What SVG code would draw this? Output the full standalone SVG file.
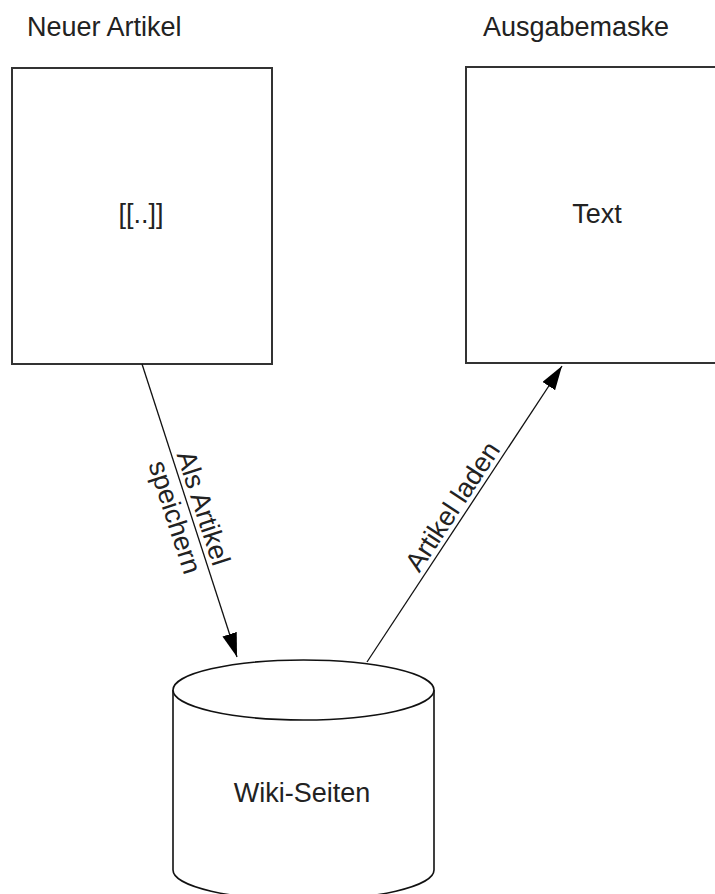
<svg xmlns="http://www.w3.org/2000/svg" width="715" height="894" viewBox="0 0 715 894">
<style>
text{font-family:"Liberation Sans",Arial,sans-serif;font-size:27px;fill:#222}
.box{fill:#fff;stroke:#333;stroke-width:2}
.cyl{fill:#fff;stroke:#111;stroke-width:1.6}
.edge{fill:none;stroke:#111;stroke-width:1.3}
</style>
<defs>
<marker id="arr" markerUnits="userSpaceOnUse" markerWidth="26" markerHeight="18" refX="24" refY="7.5" orient="auto">
<path d="M0,0 L24,7.5 L0,15 Z" fill="#000"/>
</marker>
</defs>
<rect width="715" height="894" fill="#fff"/>
<g id="neuer-artikel">
<text x="27" y="36">Neuer Artikel</text>
<rect class="box" x="12" y="68" width="260" height="296"/>
<text x="141" y="223" text-anchor="middle">[[..]]</text>
</g>
<g id="ausgabemaske">
<text x="483" y="36">Ausgabemaske</text>
<rect class="box" x="466" y="67" width="270" height="296"/>
<text x="597" y="223" text-anchor="middle">Text</text>
</g>
<g id="wiki-seiten">
<path class="cyl" d="M173,690 V870 A130.5,30 0 0,0 434,870 V690"/>
<ellipse class="cyl" cx="303.5" cy="690" rx="130.5" ry="30"/>
<text x="302" y="802" text-anchor="middle">Wiki-Seiten</text>
</g>
<g id="connectors">
<line class="edge" x1="142" y1="364" x2="237" y2="657" marker-end="url(#arr)"/>
<text transform="translate(190,512.3) rotate(72)" text-anchor="middle"><tspan x="0" y="-5">Als Artikel</tspan><tspan x="0" y="25">speichern</tspan></text>
<line class="edge" x1="367" y1="662" x2="562" y2="366" marker-end="url(#arr)"/>
<text transform="translate(464.4,514.2) rotate(-56.6)" text-anchor="middle" y="-5">Artikel laden</text>
</g>
</svg>
